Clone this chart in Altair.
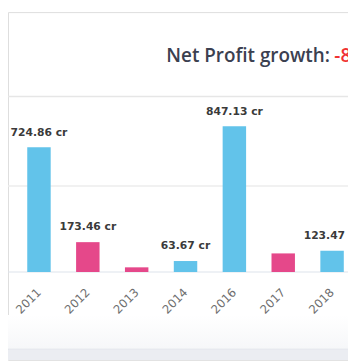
import altair as alt
import pandas as pd

# ---- data ----
years = ["2010", "2011", "2012", "2013", "2014", "2016", "2017", "2018"]
profit = [693, 724.86, 173.46, 27, 63.67, 847.13, 108, 123.47]
value_labels = ["", "724.86 cr", "173.46 cr", "", "63.67 cr", "847.13 cr", "", "123.47 cr"]
grid_values = [500]
title_text = "Net Profit growth:"
growth_text = "-8"

trend = ["up"] + ["up" if b >= a else "down" for a, b in zip(profit, profit[1:])]

df = pd.DataFrame({
    "year": years,
    "profit": profit,
    "label": value_labels,
    "trend": trend,
    "zero": [0] * len(years),
})

W, H = 348, 356
BLUE, PINK = "#62c3ea", "#e5488a"

x_scale = alt.Scale(domain=years, range=[-43.3, 356.7], paddingInner=0.52, paddingOuter=0.26)
y_scale = alt.Scale(domain=[0, 1020], range=[266, 86.5])

one = pd.DataFrame({"k": [0]})

bg = alt.Chart(one).mark_rect(
    color=alt.Gradient(
        gradient="linear",
        stops=[alt.GradientStop(color="#ffffff", offset=0),
               alt.GradientStop(color="#f6f7f9", offset=1)],
        x1=0, x2=0, y1=0, y2=1,
    )
).encode(x=alt.value(0), x2=alt.value(W), y=alt.value(310), y2=alt.value(345))

band = alt.Chart(one).mark_rect(color="#ebedf2").encode(
    x=alt.value(0), x2=alt.value(W), y=alt.value(345), y2=alt.value(H)
)

band_edge = alt.Chart(one).mark_rule(color="#e2e5eb", strokeWidth=1).encode(y=alt.value(345))

top_line = alt.Chart(one).mark_rule(color="#e6e6e6", strokeWidth=1.5).encode(y=alt.value(86.5))

grid = alt.Chart(pd.DataFrame({"v": grid_values})).mark_rule(color="#ececec", strokeWidth=1.5).encode(
    y=alt.Y("v:Q", scale=y_scale, axis=None)
)

base_line = alt.Chart(pd.DataFrame({"v": [0]})).mark_rule(color="#dde3ec", strokeWidth=1.2).encode(
    y=alt.Y("v:Q", scale=y_scale, axis=None)
)

base = alt.Chart(df)

bars = base.mark_bar().encode(
    x=alt.X("year:N", scale=x_scale, axis=None),
    y=alt.Y("profit:Q", scale=y_scale, axis=None),
    y2=alt.Y2("zero:Q"),
    color=alt.Color("trend:N", scale=alt.Scale(domain=["up", "down"], range=[BLUE, PINK]), legend=None),
)

vlabels = base.mark_text(
    baseline="alphabetic", dy=-12, font="DejaVu Sans", fontWeight="bold", fontSize=11, color="#3a3a3a"
).encode(
    x=alt.X("year:N", scale=x_scale, axis=None),
    y=alt.Y("profit:Q", scale=y_scale, axis=None),
    text="label:N",
)

xlabels = base.mark_text(
    angle=315, align="right", baseline="middle", font="DejaVu Sans", fontSize=12, color="#6e6e6e"
).encode(
    x=alt.X("year:N", scale=x_scale, axis=None),
    y=alt.Y("zero:Q", scale=y_scale, axis=None),
    yOffset=alt.value(19),
    text="year:N",
)

title = alt.Chart(pd.DataFrame({"t": [title_text]})).mark_text(
    align="left", baseline="alphabetic", font="Open Sans", fontWeight=600, fontSize=19.3, color="#3b4050"
).encode(x=alt.value(162), y=alt.value(51.5), text="t:N")

growth = alt.Chart(pd.DataFrame({"t": [growth_text]})).mark_text(
    align="left", baseline="alphabetic", font="Open Sans", fontWeight=600, fontSize=19.3, color="#f03232"
).encode(x=alt.value(334), y=alt.value(51.5), text="t:N")

chart = alt.layer(bg, band, band_edge, top_line, grid, base_line, bars, vlabels, xlabels, title, growth).properties(
    width=W, height=H,
    autosize=alt.AutoSizeParams(type="none"),
    padding=0,
).configure_view(stroke=None).configure(background="white")

chart.save("out.html", embed_options={"renderer": "svg", "actions": False})
